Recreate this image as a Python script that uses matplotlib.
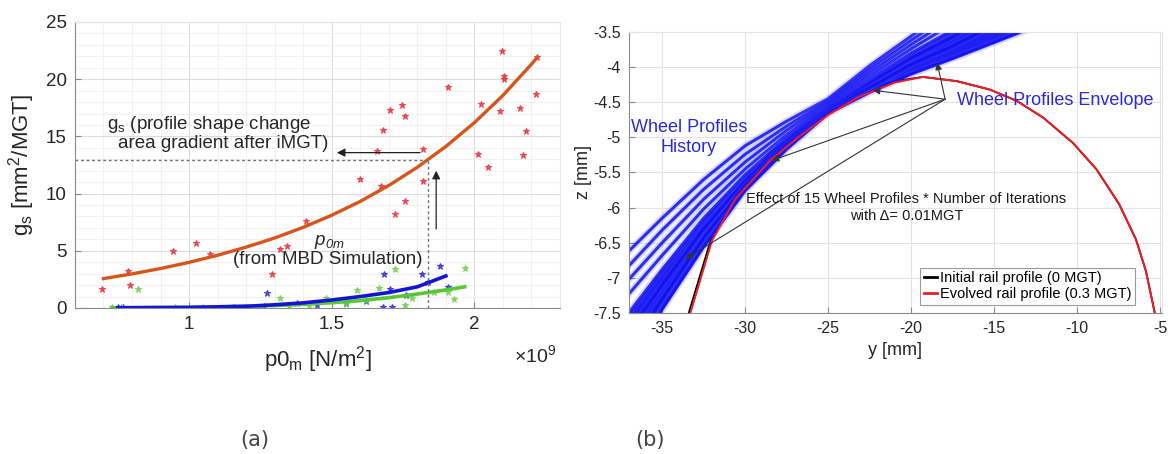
import matplotlib
matplotlib.use("Agg")
import matplotlib.pyplot as plt
from matplotlib.ticker import MultipleLocator
from matplotlib.lines import Line2D

plt.rcParams['font.family'] = ['Liberation Sans', 'DejaVu Sans']
plt.rcParams['mathtext.fontset'] = 'custom'
plt.rcParams['mathtext.rm'] = 'Liberation Sans'
plt.rcParams['mathtext.it'] = 'Liberation Sans:italic'

# ---- (a) shape-change gradient vs contact pressure (x in 1e9 N/m^2) ----
red_p0 = [0.696, 0.786, 0.792, 0.945, 1.024, 1.074, 1.291, 1.317, 1.342, 1.41,
          1.599, 1.657, 1.672, 1.68, 1.705, 1.72, 1.745, 1.755, 1.755, 1.819,
          1.82, 1.907, 2.013, 2.022, 2.048, 2.09, 2.095, 2.105, 2.105, 2.16,
          2.17, 2.18, 2.215, 2.22]
red_gs = [1.63, 3.26, 1.98, 4.98, 5.7, 4.72, 2.95, 5.16, 5.4, 7.6,
          11.3, 13.75, 10.7, 15.6, 17.3, 8.2, 17.7, 16.8, 9.35, 11.1,
          13.9, 19.3, 13.5, 17.8, 12.35, 17.2, 22.5, 20.3, 20.0, 17.45,
          13.4, 15.5, 18.7, 21.9]

blue_p0 = [0.75, 0.77, 1.157, 1.198, 1.262, 1.273, 1.377, 1.45, 1.55, 1.62,
           1.68, 1.684, 1.705, 1.71, 1.76, 1.816, 1.837, 1.881, 1.907]
blue_gs = [0.08, 0.12, 0.12, 0.1, 0.15, 1.28, 0.47, 0.25, 0.4, 0.6,
           0.1, 2.97, 1.63, 0.12, 1.1, 2.97, 2.3, 3.67, 1.87]

green_p0 = [0.73, 0.76, 0.822, 0.95, 1.05, 1.15, 1.25, 1.32, 1.35, 1.42,
            1.479, 1.55, 1.59, 1.62, 1.664, 1.72, 1.755, 1.78, 1.86, 1.907,
            1.93, 1.966]
green_gs = [0.05, 0.1, 1.66, 0.05, 0.08, 0.1, 0.12, 0.85, 0.15, 0.3,
            0.9, 0.35, 1.57, 0.7, 1.78, 3.4, 0.26, 0.9, 1.43, 1.43,
            0.8, 3.47]

fit_red_p0 = [0.7, 0.8, 0.9, 1.0, 1.1, 1.2, 1.3, 1.4, 1.5, 1.6,
              1.7, 1.8, 1.9, 2.0, 2.1, 2.2, 2.22]
fit_red_gs = [2.57, 2.98, 3.45, 3.99, 4.61, 5.32, 6.12, 7.05, 8.11, 9.32,
              10.71, 12.3, 14.12, 16.2, 18.58, 21.31, 21.9]
fit_blue_p0 = [0.75, 1.0, 1.2, 1.3, 1.4, 1.5, 1.6, 1.7, 1.8, 1.9]
fit_blue_gs = [0.02, 0.05, 0.15, 0.28, 0.45, 0.7, 1.0, 1.35, 1.85, 2.8]
fit_green_p0 = [0.73, 1.0, 1.2, 1.3, 1.4, 1.5, 1.6, 1.7, 1.8, 1.9, 1.966]
fit_green_gs = [0.02, 0.06, 0.15, 0.22, 0.32, 0.46, 0.65, 0.9, 1.22, 1.58, 1.85]

p0_sim = 1.837   # pressure from MBD simulation
gs_sim = 12.94   # gradient

# ---- (b) rail / wheel profiles ----
rail_evolved_y = [-33.3, -32.0, -30.6, -28.5, -26.8, -25.0, -23.2, -21.0, -19.3,
                  -17.25, -15.27, -13.65, -12.05, -10.26, -8.86, -7.48, -6.47,
                  -5.87, -5.33]
rail_evolved_z = [-7.5, -6.47, -5.88, -5.33, -5.0, -4.68, -4.43, -4.22, -4.14,
                  -4.2, -4.32, -4.48, -4.72, -5.08, -5.45, -5.95, -6.45,
                  -6.9, -7.5]
rail_initial_y = [-33.4, -32.1, -30.65, -29.5, -28.5, -26.8, -24.8, -22.5, -21.0,
                  -19.3, -17.25, -15.27, -13.65, -12.05, -10.26, -8.86, -7.48,
                  -6.47, -5.87, -5.33]
rail_initial_z = [-7.5, -6.48, -5.86, -5.5, -5.22, -4.9, -4.55, -4.3, -4.2,
                  -4.14, -4.2, -4.32, -4.48, -4.72, -5.08, -5.45, -5.95,
                  -6.45, -6.9, -7.5]

wheel_y = [-38, -35, -32.5, -30, -27.5, -25, -22.5, -20, -17.5, -15, -12.5]
wheel_z = [
    [-6.85, -6.15, -5.6, -5.12, -4.77, -4.45, -3.98, -3.56, -3.15, -2.75, -2.4],
    [-7.08, -6.32, -5.74, -5.24, -4.84, -4.48, -4.03, -3.62, -3.22, -2.82, -2.45],
    [-7.28, -6.5, -5.88, -5.35, -4.9, -4.51, -4.08, -3.68, -3.3, -2.9, -2.52],
    [-7.5, -6.68, -6.02, -5.45, -4.96, -4.54, -4.13, -3.74, -3.38, -3.0, -2.62],
    [-7.8, -6.88, -6.15, -5.53, -5.01, -4.57, -4.18, -3.8, -3.47, -3.1, -2.75],
    [-8.1, -7.1, -6.3, -5.62, -5.06, -4.6, -4.23, -3.87, -3.57, -3.22, -2.88],
    [-8.4, -7.3, -6.43, -5.69, -5.11, -4.63, -4.29, -3.96, -3.7, -3.4, -3.05],
    [-8.8, -7.45, -6.56, -5.76, -5.17, -4.66, -4.36, -4.1, -3.88, -3.65, -3.42],
]

anchor = (-17.96, -4.457)
arrow_targets = [(-18.44, -3.94), (-22.3, -4.33), (-28.4, -5.33), (-33.6, -6.73)]

fig = plt.figure(figsize=(11.75, 4.54), dpi=100)

# ---------------- panel (a) ----------------
ax1 = fig.add_axes([0.0638, 0.3216, 0.4128, 0.63])
ax1.set_xlim(0.6, 2.3)
ax1.set_ylim(0, 25)
ax1.xaxis.set_major_locator(MultipleLocator(0.5))
ax1.xaxis.set_minor_locator(MultipleLocator(0.1))
ax1.yaxis.set_major_locator(MultipleLocator(5))
ax1.yaxis.set_minor_locator(MultipleLocator(1))
ax1.set_xticks([1, 1.5, 2])
ax1.set_xticklabels(['1', '1.5', '2'])
ax1.grid(which='major', color='#dcdcdc', lw=0.8)
ax1.grid(which='minor', color='#efefef', lw=0.6)
ax1.set_axisbelow(True)
ax1.tick_params(which='major', direction='in', length=4, labelsize=13.5,
                color='#888888', labelcolor='#262626', pad=6)
ax1.tick_params(which='minor', length=0)
for side in ['left', 'bottom']:
    ax1.spines[side].set_color('#8a8a8a')
for side in ['top', 'right']:
    ax1.spines[side].set_color('#e6e6e6')

star = dict(ls='none', marker='*', ms=5, mew=0.8, alpha=0.8)
ax1.plot(red_p0, red_gs, color='#e8303a', **star)
ax1.plot(blue_p0, blue_gs, color='#2a2ae0', **star)
ax1.plot(green_p0, green_gs, color='#6cd24a', **star)
ax1.plot(fit_green_p0, fit_green_gs, color='#55c832', lw=2.6)
ax1.plot(fit_blue_p0, fit_blue_gs, color='#1414d8', lw=2.6)
ax1.plot(fit_red_p0, fit_red_gs, color='#d9541a', lw=2.4)

ax1.plot([0.6, p0_sim], [gs_sim, gs_sim], color='#707070', lw=1, dashes=(2, 2))
ax1.plot([p0_sim, p0_sim], [0, gs_sim], color='#707070', lw=1, dashes=(2, 2))
ax1.annotate('', xy=(1.508, 13.58), xytext=(1.819, 13.58),
             arrowprops=dict(arrowstyle='-|>', color='#222222', lw=0.9,
                             mutation_scale=12))
ax1.annotate('', xy=(1.866, 12.24), xytext=(1.866, 6.67),
             arrowprops=dict(arrowstyle='-|>', color='#222222', lw=0.9,
                             mutation_scale=12))

ax1.text(0.711, 16.08, r'g$_\mathregular{s}$ (profile shape change', fontsize=13.5,
         color='#262626', va='center', ha='left')
ax1.text(0.75, 14.42, 'area gradient after iMGT)', fontsize=13.5,
         color='#262626', va='center', ha='left')
ax1.text(1.493, 5.8, r'$\mathregular{p_{0m}}$', style='italic', fontsize=13.5,
         color='#262626', va='center', ha='center')
ax1.text(1.485, 4.2, '(from MBD Simulation)', fontsize=13.5,
         color='#262626', va='center', ha='center')

ax1.set_ylabel(r'g$_\mathregular{s}$ [mm$^\mathregular{2}$/MGT]', fontsize=16,
               color='#262626', labelpad=6)
ax1.set_xlabel(r'p0$_\mathregular{m}$ [N/m$^\mathregular{2}$]', fontsize=16,
               color='#262626', labelpad=8)
ax1.text(0.905, -0.165, r'$\times$10$^\mathregular{9}$', transform=ax1.transAxes,
         fontsize=14, color='#262626', ha='left', va='center')

# ---------------- panel (b) ----------------
ax2 = fig.add_axes([0.5353, 0.3106, 0.4536, 0.619])
ax2.set_xlim(-37, -4.9)
ax2.set_ylim(-7.5, -3.5)
ax2.set_xticks([-35, -30, -25, -20, -15, -10, -5])
ax2.set_yticks([-7.5, -7, -6.5, -6, -5.5, -5, -4.5, -4, -3.5])
ax2.set_yticklabels(['-7.5', '-7', '-6.5', '-6', '-5.5', '-5', '-4.5', '-4', '-3.5'])
ax2.set_xticklabels(['-35', '-30', '-25', '-20', '-15', '-10', '-5'])
ax2.grid(color='#e4e4e4', lw=0.8)
ax2.set_axisbelow(True)
ax2.tick_params(direction='in', length=4, labelsize=11.5, color='#888888',
                labelcolor='#262626', pad=6)
for side in ['left', 'bottom']:
    ax2.spines[side].set_color('#8a8a8a')
for side in ['top', 'right']:
    ax2.spines[side].set_color('#e6e6e6')

# initial rail sits underneath the wheel profiles
ax2.plot(rail_initial_y, rail_initial_z, color='black', lw=1.3, zorder=1.5)

# wheel profile history: dense core plus individual profiles
ax2.fill_between(wheel_y, wheel_z[4], wheel_z[7], color='#0c0cf2', lw=0, alpha=0.92,
                 zorder=2)
for zz in wheel_z:
    ax2.plot(wheel_y, zz, color='#5050ff', lw=5, alpha=0.22, solid_capstyle='butt',
             zorder=2)
    ax2.plot(wheel_y, zz, color='#1010f0', lw=2.2, alpha=0.85, zorder=2)

ax2.plot(rail_evolved_y, rail_evolved_z, color='#ee1c25', lw=1.4, zorder=2.5)

for tx, tz in arrow_targets:
    ax2.annotate('', xy=(tx, tz), xytext=anchor,
                 arrowprops=dict(arrowstyle='-|>', color='#333333', lw=0.8,
                                 mutation_scale=10, shrinkA=0, shrinkB=0))

ax2.text(-17.25, -4.48, 'Wheel Profiles Envelope', fontsize=13, color='#2a2ad8',
         ha='left', va='center')
ax2.text(-33.4, -5.0, 'Wheel Profiles\nHistory', fontsize=13, color='#2a2ad8',
         ha='center', va='center', linespacing=1.2)
ax2.text(-20.3, -6.0, 'Effect of 15 Wheel Profiles * Number of Iterations\nwith \u0394= 0.01MGT',
         fontsize=10.5, color='#1a1a1a', ha='center', va='center', linespacing=1.3)

ax2.set_xlabel('y [mm]', fontsize=13, color='#262626', labelpad=4)
ax2.set_ylabel('z [mm]', fontsize=13, color='#262626', labelpad=1)

handles = [Line2D([], [], color='black', lw=2),
           Line2D([], [], color='#ee1c25', lw=2)]
leg = ax2.legend(handles, ['Initial rail profile (0 MGT)', 'Evolved rail profile (0.3 MGT)'],
                 loc='lower right', bbox_to_anchor=(0.95, 0.028), fontsize=10.5,
                 handlelength=0.9, handletextpad=0.2, borderpad=0.25,
                 labelspacing=0.15, borderaxespad=0, fancybox=False,
                 framealpha=1, edgecolor='#9a9a9a')
leg.get_frame().set_linewidth(0.8)

fig.text(255 / 1175, 1 - 440 / 454, '(a)', family='DejaVu Sans', fontsize=15,
         color='#444444', ha='center', va='center')
fig.text(650 / 1175, 1 - 440 / 454, '(b)', family='DejaVu Sans', fontsize=15,
         color='#444444', ha='center', va='center')

fig.savefig('out.png', dpi=100)
